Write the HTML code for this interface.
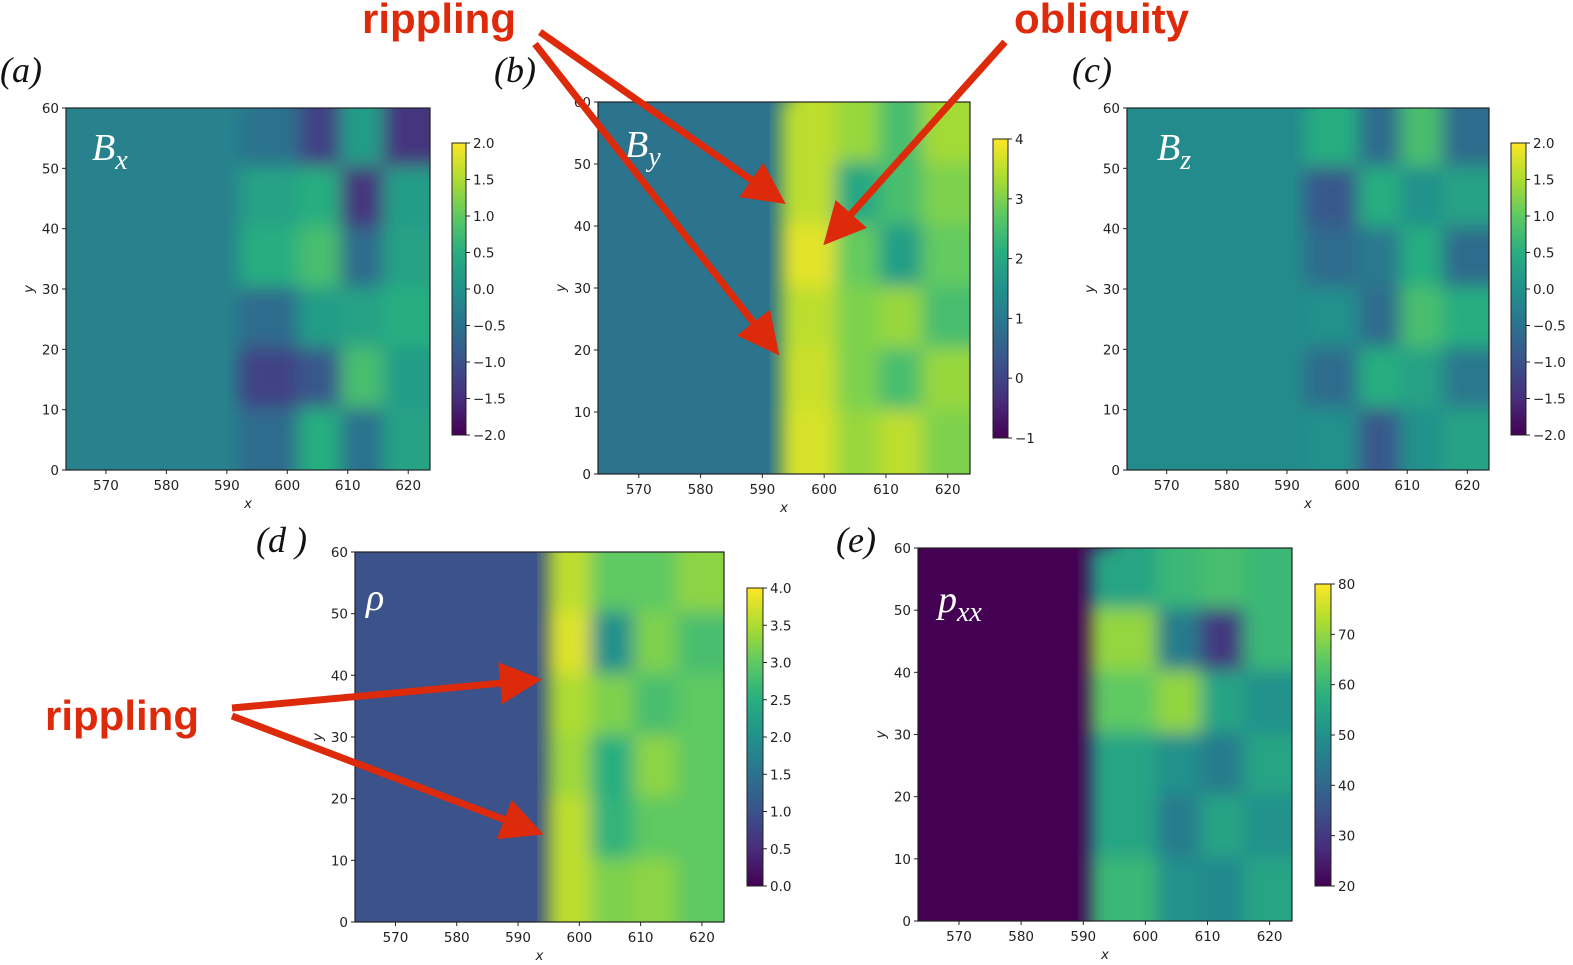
<!DOCTYPE html>
<html><head><meta charset="utf-8"><style>
html,body{margin:0;padding:0;background:#fff;}
svg{display:block;}
.tk{font-family:"DejaVu Sans","Liberation Sans",sans-serif;font-size:13.5px;fill:#222;}
.pl{font-family:"Liberation Serif",serif;font-style:italic;font-size:36px;fill:#111;}
.an{font-family:"Liberation Sans",sans-serif;font-weight:bold;font-size:42px;fill:#dd2a0a;}
</style></head><body>
<svg id="fig" width="1573" height="965" viewBox="0 0 1573 965">
<defs>
<filter id="blur" x="-5%" y="-5%" width="110%" height="110%"><feGaussianBlur stdDeviation="9"/></filter>
<linearGradient id="vir" x1="0" y1="1" x2="0" y2="0">
<stop offset="0" stop-color="#440154"/><stop offset="0.125" stop-color="#472d7b"/><stop offset="0.25" stop-color="#3b528b"/><stop offset="0.375" stop-color="#2c728e"/><stop offset="0.5" stop-color="#21918c"/><stop offset="0.625" stop-color="#28ae80"/><stop offset="0.75" stop-color="#5ec962"/><stop offset="0.875" stop-color="#addc30"/><stop offset="1" stop-color="#fde725"/>
</linearGradient>
<marker id="ah" markerWidth="6" markerHeight="6" refX="5" refY="3" orient="auto" markerUnits="strokeWidth"><path d="M0,0 L6,3 L0,6 z" fill="#dd2a0a"/></marker>
</defs>
</svg>
<script>
// ---- data ----
const xTicks = [570,580,590,600,610,620];
const yTicks = [0,10,20,30,40,50,60];
const xDomain = [563.4,623.6];
const yDomain = [0,60];
const colBins = [595,602,609,616,623];
const rowBins = [60,50,40,30,20,10,0];
const bxVals = [[-0.5,-1.2,0.2,-1.4],[0.3,0.5,-1.4,0.2],[0.5,0.8,-0.6,0.3],[-0.6,0.2,0.3,0.5],[-1.2,-0.9,0.8,0.2],[-0.6,0.5,-0.5,0.3]];
const byVals = [[3.5,3.2,2.5,3.3],[3.5,2.0,2.5,3.0],[3.8,2.8,1.8,2.8],[3.5,3.0,3.2,2.5],[3.6,3.0,2.5,3.2],[3.7,3.2,3.5,3.0]];
const bzVals = [[0.5,-0.6,0.8,-0.6],[-0.9,0.5,0.0,0.3],[-0.6,-0.4,0.5,-0.6],[0.0,-0.6,0.8,0.5],[-0.6,0.5,0.3,-0.4],[0.0,-0.9,0.0,0.3]];
const rhoVals = [[3.6,3.0,3.0,3.3],[3.8,2.0,3.2,2.8],[3.5,3.2,2.8,3.0],[3.4,2.5,3.3,3.0],[3.6,2.6,3.0,3.0],[3.6,3.2,3.3,3.0]];
const pxxVals = [[55,60,62,60],[70,45,30,60],[65,70,55,50],[55,50,45,55],[55,45,55,50],[60,50,48,55]];
const upstream = {bx:-0.25, by:0.9, bz:-0.1, rho:1.0, pxx:20};
const shockX = {bx:592, by:593, bz:593, rho:595, pxx:591};
const cbTicksA = [-2.0,-1.5,-1.0,-0.5,0.0,0.5,1.0,1.5,2.0];
const cbTicksB = [-1,0,1,2,3,4];
const cbTicksD = [0.0,0.5,1.0,1.5,2.0,2.5,3.0,3.5,4.0];
const cbTicksE = [20,30,40,50,60,70,80];

const NS="http://www.w3.org/2000/svg", svg=document.getElementById('fig');
const VS=[[0,'#440154'],[.125,'#472d7b'],[.25,'#3b528b'],[.375,'#2c728e'],[.5,'#21918c'],[.625,'#28ae80'],[.75,'#5ec962'],[.875,'#addc30'],[1,'#fde725']];
function hx(c){return [1,3,5].map(i=>parseInt(c.substr(i,2),16));}
function vir(t){t=Math.max(0,Math.min(1,t));for(let i=1;i<VS.length;i++){if(t<=VS[i][0]){const a=VS[i-1],b=VS[i],f=(t-a[0])/(b[0]-a[0]);const A=hx(a[1]),B=hx(b[1]);return 'rgb('+A.map((v,k)=>Math.round(v+(B[k]-v)*f)).join(',')+')';}}return VS[8][1];}
function el(tag,attrs,parent){const e=document.createElementNS(NS,tag);for(const k in attrs)e.setAttribute(k,attrs[k]);(parent||svg).appendChild(e);return e;}

const panels=[
 {key:'bx',vals:bxVals,x:66,y:108,w:364,h:362,cb:[452,143,14,292],vmin:-2,vmax:2,cbt:cbTicksA,fmt:v=>v.toFixed(1),lab:'(a)',lx:0,ly:82,nm:'B',sub:'x',nx:92,ny:160},
 {key:'by',vals:byVals,x:598,y:102,w:372,h:372,cb:[993,139,15,299],vmin:-1,vmax:4,cbt:cbTicksB,fmt:v=>String(v),lab:'(b)',lx:494,ly:82,nm:'B',sub:'y',nx:625,ny:157},
 {key:'bz',vals:bzVals,x:1127,y:108,w:362,h:362,cb:[1511,143,15,292],vmin:-2,vmax:2,cbt:cbTicksA,fmt:v=>v.toFixed(1),lab:'(c)',lx:1072,ly:82,nm:'B',sub:'z',nx:1157,ny:160},
 {key:'rho',vals:rhoVals,x:355,y:552,w:369,h:370,cb:[747,588,16,298],vmin:0,vmax:4,cbt:cbTicksD,fmt:v=>v.toFixed(1),lab:'(d )',lx:256,ly:552,nm:'ρ',sub:'',nx:366,ny:610},
 {key:'pxx',vals:pxxVals,x:918,y:548,w:374,h:373,cb:[1315,584,16,302],vmin:20,vmax:80,cbt:cbTicksE,fmt:v=>String(v),lab:'(e)',lx:836,ly:552,nm:'p',sub:'xx',nx:938,ny:612}
];
panels.forEach(p=>{
 const g=el('g',{});
 
 
 const sx=v=>p.x+(v-xDomain[0])/(xDomain[1]-xDomain[0])*p.w;
 const sy=v=>p.y+p.h-(v-yDomain[0])/(yDomain[1]-yDomain[0])*p.h;
 const cn=v=>(v-p.vmin)/(p.vmax-p.vmin);
 const cid='clip-'+p.key;
 const cp=el('clipPath',{id:cid},g);el('rect',{x:p.x,y:p.y,width:p.w,height:p.h},cp);
 const hm=el('g',{'clip-path':'url(#'+cid+')'},g);
 
 
 el('rect',{x:p.x,y:p.y,width:p.w,height:p.h,fill:vir(cn(upstream[p.key]))},hm);
 const bl=el('g',{filter:'url(#blur)'},hm);
 const x0=sx(shockX[p.key]);
 p.vals.forEach((row,r)=>{
  const ya=sy(rowBins[r]),yb=sy(rowBins[r+1]);
  const c=el('rect',{x:x0,y:ya-2,width:sx(colBins[0])-x0+2,height:yb-ya+4+(r==5?30:0)+(r==0?0:0),fill:vir(cn(row[0]))},bl);
  
  
  row.forEach((v,ci)=>{
   const xa=sx(colBins[ci]),xb=sx(colBins[ci+1]);
   const e=el('rect',{x:xa-1,y:ya-2-(r==0?30:0),width:(ci==row.length-1?xb-xa+40:xb-xa+2),height:yb-ya+4+(r==5?30:0)+(r==0?30:0),fill:vir(cn(v))},bl);
   
   
  });
 });
 el('rect',{x:p.x,y:p.y,width:p.w,height:p.h,fill:'none',stroke:'#222','stroke-width':1.2},g);
 xTicks.forEach(t=>{const X=sx(t);el('line',{x1:X,y1:p.y+p.h,x2:X,y2:p.y+p.h+4,stroke:'#222'},g);
  const tx=el('text',{x:X,y:p.y+p.h+20,'text-anchor':'middle',class:'tk'},g);tx.textContent=t;
  });
 yTicks.forEach(t=>{const Y=sy(t);el('line',{x1:p.x-4,y1:Y,x2:p.x,y2:Y,stroke:'#222'},g);
  const tx=el('text',{x:p.x-7,y:Y+5,'text-anchor':'end',class:'tk'},g);tx.textContent=t;
  });
 const xl=el('text',{x:p.x+p.w/2,y:p.y+p.h+38,'text-anchor':'middle',class:'tk','font-style':'italic'},g);xl.textContent='x';
 
 const yl=el('text',{x:0,y:0,'text-anchor':'middle',class:'tk','font-style':'italic',transform:'translate('+(p.x-33)+','+(p.y+p.h/2)+') rotate(-90)'},g);yl.textContent='y';
 
 const [cx,cy,cw,ch]=p.cb;
 const cb=el('rect',{x:cx,y:cy,width:cw,height:ch,fill:'url(#vir)',stroke:'#222','stroke-width':1},g);
 
 p.cbt.forEach(t=>{const Y=cy+ch-(t-p.vmin)/(p.vmax-p.vmin)*ch;el('line',{x1:cx+cw,y1:Y,x2:cx+cw+4,y2:Y,stroke:'#222'},g);
  const tx=el('text',{x:cx+cw+7,y:Y+5,class:'tk'},g);tx.textContent=(t<0?'\u2212'+p.fmt(-t):p.fmt(t));
  });
 const pl=el('text',{x:p.lx,y:p.ly,class:'pl'},g);pl.textContent=p.lab;
 
 const nm=el('text',{x:p.nx,y:p.ny,class:'pl',style:'fill:#fff;font-size:38px'},g);nm.textContent=p.nm;
 
 if(p.sub){const s=el('tspan',{dy:9,'font-size':'28'},nm);s.textContent=p.sub;}
});
const ann=[['rippling',362,33],['obliquity',1014,33],['rippling',45,730]];
ann.forEach(a=>{const t=el('text',{x:a[1],y:a[2],class:'an'});t.textContent=a[0];
 });
const arrows=[[540,32,780,200],[535,44,775,350],[1005,42,828,240],[232,708,535,680],[232,716,537,832]];
arrows.forEach(a=>{const l=el('line',{x1:a[0],y1:a[1],x2:a[2],y2:a[3],stroke:'#dd2a0a','stroke-width':7,'marker-end':'url(#ah)'});
 });
</script>
</body></html>
